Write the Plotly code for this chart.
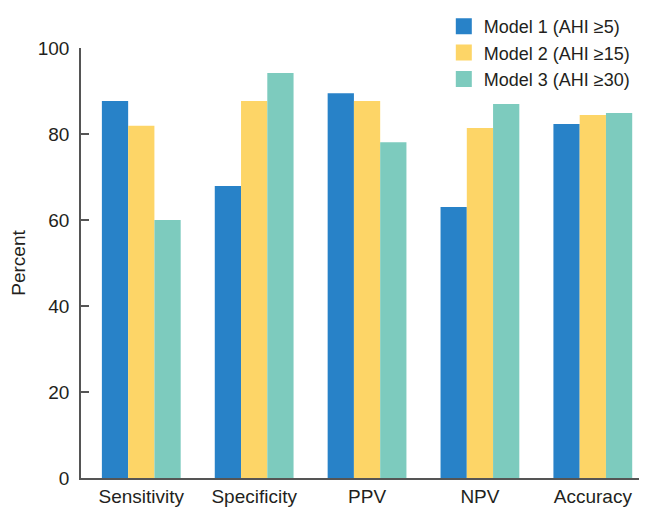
import plotly.graph_objects as go

categories = ["Sensitivity", "Specificity", "PPV", "NPV", "Accuracy"]
model1 = [87.7, 67.9, 89.5, 63.0, 82.3]
model2 = [81.9, 87.7, 87.7, 81.4, 84.4]
model3 = [60.0, 94.2, 78.1, 87.0, 84.9]
series_names = ["Model 1 (AHI \u22655)", "Model 2 (AHI \u226515)", "Model 3 (AHI \u226530)"]
colors = ["#2882c8", "#fdd567", "#7dcbbe"]
y_ticks = [0, 20, 40, 60, 80, 100]

FONT = "Liberation Sans, Arial, sans-serif"
font_color = "#231f20"
FS = 19

fig = go.Figure()
for name, vals, col in zip(series_names, [model1, model2, model3], colors):
    fig.add_trace(go.Bar(x=categories, y=vals, name=name, marker_color=col,
                         marker_line_width=0, legendgroup=name, showlegend=False))
# legend swatches (larger squares, as in the reference)
for name, col in zip(series_names, colors):
    fig.add_trace(go.Scatter(x=[None], y=[None], mode="markers", name=name,
                             legendgroup=name,
                             marker=dict(symbol="square", size=16, color=col,
                                         line=dict(width=0))))

# page body has an 8px margin; figure size and margins compensate for it
fig.update_layout(
    width=639, height=501,
    margin=dict(l=71, r=0, t=40, b=31),
    plot_bgcolor="white", paper_bgcolor="white",
    barmode="group", bargap=0.302, bargroupgap=0,
    font=dict(family=FONT, size=FS, color=font_color),
    showlegend=True,
    legend=dict(x=0.641, y=1.093, xanchor="left", yanchor="top",
                font=dict(family=FONT, size=18, color=font_color), tracegroupgap=0,
                itemwidth=30, itemsizing="trace", bgcolor="rgba(0,0,0,0)"),
    xaxis=dict(range=[-0.534, 4.48], showline=True, linecolor="#555555", linewidth=1.5,
               ticks="", showgrid=False, tickfont=dict(family=FONT, size=FS, color=font_color)),
    yaxis=dict(range=[0, 100], tickvals=y_ticks, showline=True, linecolor="#555555",
               linewidth=1.5, ticks="inside", ticklen=8, tickcolor="#555555", tickwidth=1.5,
               showgrid=False, zeroline=False, ticklabelstandoff=6,
               tickfont=dict(family=FONT, size=FS, color=font_color),
               title=dict(text="Percent", font=dict(family=FONT, size=FS, color=font_color), standoff=16)),
)
fig.write_html("out.html")
